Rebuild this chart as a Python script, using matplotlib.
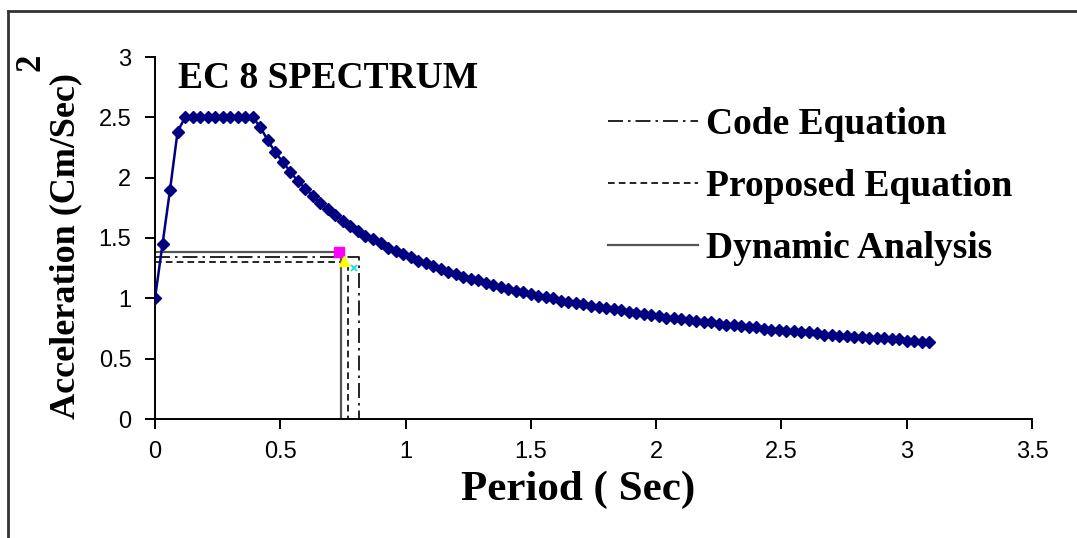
import matplotlib

matplotlib.use("Agg")
import matplotlib.pyplot as plt
from matplotlib.lines import Line2D

# EC 8 spectrum points (period in s, acceleration)
period = [
    0.00, 0.03, 0.06, 0.09, 0.12, 0.15, 0.18, 0.21, 0.24, 0.27,
    0.30, 0.33, 0.36, 0.39, 0.42, 0.45, 0.48, 0.51, 0.54, 0.57,
    0.60, 0.63, 0.66, 0.69, 0.72, 0.75, 0.78, 0.81, 0.84, 0.87,
    0.90, 0.93, 0.96, 0.99, 1.02, 1.05, 1.08, 1.11, 1.14, 1.17,
    1.20, 1.23, 1.26, 1.29, 1.32, 1.35, 1.38, 1.41, 1.44, 1.47,
    1.50, 1.53, 1.56, 1.59, 1.62, 1.65, 1.68, 1.71, 1.74, 1.77,
    1.80, 1.83, 1.86, 1.89, 1.92, 1.95, 1.98, 2.01, 2.04, 2.07,
    2.10, 2.13, 2.16, 2.19, 2.22, 2.25, 2.28, 2.31, 2.34, 2.37,
    2.40, 2.43, 2.46, 2.49, 2.52, 2.55, 2.58, 2.61, 2.64, 2.67,
    2.70, 2.73, 2.76, 2.79, 2.82, 2.85, 2.88, 2.91, 2.94, 2.97,
    3.00, 3.03, 3.06, 3.09,
]
acceleration = [
    1.00, 1.45, 1.90, 2.38, 2.50, 2.50, 2.50, 2.50, 2.50, 2.50,
    2.50, 2.50, 2.50, 2.50, 2.42, 2.31, 2.21, 2.13, 2.05, 1.97,
    1.91, 1.85, 1.79, 1.74, 1.69, 1.64, 1.60, 1.56, 1.52, 1.49,
    1.46, 1.42, 1.39, 1.37, 1.34, 1.31, 1.29, 1.27, 1.24, 1.22,
    1.20, 1.18, 1.16, 1.15, 1.13, 1.11, 1.09, 1.08, 1.06, 1.05,
    1.04, 1.02, 1.01, 1.00, 0.98, 0.97, 0.96, 0.95, 0.94, 0.93,
    0.92, 0.91, 0.90, 0.89, 0.88, 0.87, 0.86, 0.85, 0.84, 0.84,
    0.83, 0.82, 0.81, 0.80, 0.80, 0.79, 0.78, 0.78, 0.77, 0.76,
    0.76, 0.75, 0.74, 0.74, 0.73, 0.73, 0.72, 0.72, 0.71, 0.70,
    0.70, 0.69, 0.69, 0.68, 0.68, 0.67, 0.67, 0.67, 0.66, 0.66,
    0.65, 0.65, 0.64, 0.64,
]

# fundamental period / acceleration for each method
code_period, code_acc = 0.816, 1.345
proposed_period, proposed_acc = 0.772, 1.298
dynamic_period, dynamic_acc = 0.744, 1.382

# the little marker points next to the corners
dynamic_pt = (0.735, 1.382)
proposed_pt = (0.753, 1.309)
code_pt = (0.795, 1.249)

x_ticks = [0, 0.5, 1, 1.5, 2, 2.5, 3, 3.5]
x_labels = ["0", "0.5", "1", "1.5", "2", "2.5", "3", "3.5"]
y_ticks = [0, 0.5, 1, 1.5, 2, 2.5, 3]
y_labels = ["0", "0.5", "1", "1.5", "2", "2.5", "3"]

W, H = 1077, 538
SERIF = "Liberation Serif"
SANS = "Liberation Sans"


def main() -> None:
    fig = plt.figure(figsize=(W / 100, H / 100), dpi=100)
    ax = fig.add_axes([155 / W, 1 - 419 / H, (1032 - 155) / W, (419 - 57) / H])

    ax.plot(period, acceleration, color="#000080", lw=1.8, marker="D",
            markersize=6.5, zorder=5)

    code_line, = ax.plot([0, code_period, code_period], [code_acc, code_acc, 0],
                         color="black", lw=1.2, dashes=(9, 3, 1.5, 3))
    prop_line, = ax.plot([0, proposed_period, proposed_period],
                         [proposed_acc, proposed_acc, 0],
                         color="black", lw=1.2, dashes=(4, 2.5))
    dyn_line, = ax.plot([0, dynamic_period, dynamic_period],
                        [dynamic_acc, dynamic_acc, 0], color="#555555", lw=1.6)

    ax.plot(*dynamic_pt, marker="s", color="#ff00ff", markersize=7, zorder=6)
    ax.plot(*proposed_pt, marker="^", color="#ffff00", markersize=7, zorder=6)
    ax.plot(*code_pt, marker="x", color="#00e0e0", markersize=5, mew=1.2,
            zorder=6)

    ax.set_xlim(0, 3.5)
    ax.set_ylim(0, 3)
    ax.set_xticks(x_ticks, x_labels)
    ax.set_yticks(y_ticks, y_labels)
    for side in ("top", "right"):
        ax.spines[side].set_visible(False)
    for side in ("left", "bottom"):
        ax.spines[side].set_linewidth(1.4)
    ax.tick_params(direction="out", length=7, width=1.4, labelsize=17,
                   colors="black")
    ax.tick_params(axis="x", pad=9)
    ax.tick_params(axis="y", pad=10)
    for lab in ax.get_xticklabels() + ax.get_yticklabels():
        lab.set_family(SANS)

    ax.text(178 / W, 1 - 78 / H, "EC 8 SPECTRUM", transform=fig.transFigure,
            family=SERIF, weight="bold", fontsize=27, va="center", ha="left")

    fig.text(578 / W, 1 - 490 / H, "Period ( Sec)", family=SERIF,
             weight="bold", fontsize=31, ha="center", va="center")
    fig.text(66 / W, 1 - 246 / H, "Acceleration (Cm/Sec)", family=SERIF,
             weight="bold", fontsize=26, rotation=90, ha="center", va="center")
    fig.text(31 / W, 1 - 62 / H, "2", family=SERIF, weight="bold",
             fontsize=25, rotation=90, ha="center", va="center")

    fig.legend([code_line, prop_line, dyn_line],
               ["Code Equation", "Proposed Equation", "Dynamic Analysis"],
               loc="upper left", bbox_to_anchor=(608 / W, 1 - 107 / H),
               frameon=False, borderpad=0, borderaxespad=0, handlelength=2.4,
               handletextpad=0.22, labelspacing=0.72,
               prop={"family": SERIF, "weight": "bold", "size": 27})

    # outer chart border (top and left only are visible)
    fig.add_artist(Line2D([8 / W, 1], [1 - 11 / H, 1 - 11 / H],
                          transform=fig.transFigure, color="#333333", lw=2))
    fig.add_artist(Line2D([8 / W, 8 / W], [1 - 11 / H, 0],
                          transform=fig.transFigure, color="#333333", lw=2))

    fig.savefig("out.png", dpi=100, facecolor="white")


if __name__ == "__main__":
    main()
